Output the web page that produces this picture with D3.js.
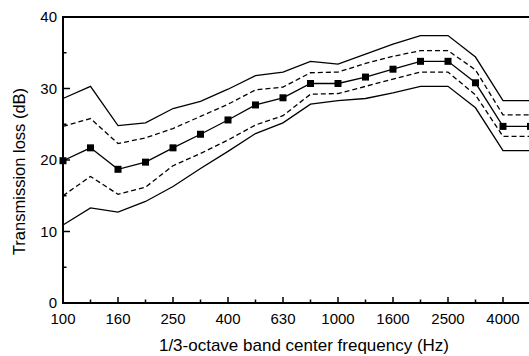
<!DOCTYPE html>
<html>
<head>
<meta charset="utf-8">
<script src="https://cdn.jsdelivr.net/npm/d3@7"></script>
<style>
  html, body { margin: 0; padding: 0; background: #fff; overflow: hidden; }
  text { font-family: "Liberation Sans", Arial, sans-serif; fill: #000; }
</style>
</head>
<body>
<script>
// 1/3-octave band centre frequencies
const freqs = ["100", "125", "160", "200", "250", "315", "400", "500", "630",
    "800", "1000", "1250", "1600", "2000", "2500", "3150", "4000", "5000"];
const majorTicks = ["100", "160", "250", "400", "630", "1000", "1600", "2500", "4000"];

// Transmission loss (dB)
const meanTL = [19.9, 21.7, 18.7, 19.7, 21.7, 23.6, 25.6, 27.7, 28.7, 30.7, 30.7, 31.6, 32.7, 33.8, 33.8, 30.8, 24.7, 24.7];
const upperDashed = [24.7, 25.8, 22.3, 23.1, 24.4, 26.1, 27.8, 29.8, 30.2, 32.2, 32.3, 33.5, 34.5, 35.3, 35.3, 32.6, 26.3, 26.3];
const lowerDashed = [15.0, 17.7, 15.2, 16.2, 19.2, 20.9, 22.8, 24.9, 26.2, 29.2, 29.3, 30.3, 31.3, 32.3, 32.3, 29.1, 23.3, 23.3];
const upperSolid = [28.6, 30.3, 24.8, 25.2, 27.2, 28.2, 29.9, 31.8, 32.3, 33.8, 33.4, 34.8, 36.2, 37.4, 37.4, 34.4, 28.3, 28.3];
const lowerSolid = [10.9, 13.3, 12.7, 14.2, 16.3, 18.8, 21.2, 23.7, 25.2, 27.8, 28.3, 28.6, 29.4, 30.3, 30.3, 27.3, 21.3, 21.3];

const yTicks = [0, 10, 20, 30, 40];
const yMinor = [5, 15, 25, 35];

const width = 529, height = 356;
const plotLeft = 63, plotTop = 17, plotBottom = 303;
const plotRight = 560; // frame continues past the cropped right edge

const svg = d3.select("body").append("svg")
    .attr("width", width)
    .attr("height", height);

const x = d3.scalePoint().domain(freqs).range([plotLeft, 530.5]);
const y = d3.scaleLinear().domain([0, 40]).range([plotBottom, plotTop]);

// curves
const line = d3.line()
    .x((d, i) => x(freqs[i]))
    .y(d => y(d));

const series = [
    { values: upperSolid, dash: null },
    { values: lowerSolid, dash: null },
    { values: upperDashed, dash: "5,3" },
    { values: lowerDashed, dash: "5,3" },
    { values: meanTL, dash: null }
];

svg.append("g")
    .selectAll("path")
    .data(series)
    .join("path")
    .attr("d", d => line(d.values))
    .attr("fill", "none")
    .attr("stroke", "#000")
    .attr("stroke-width", 1.3)
    .attr("stroke-dasharray", d => d.dash);

// square markers on the mean curve
svg.append("g")
    .selectAll("rect")
    .data(meanTL)
    .join("rect")
    .attr("x", (d, i) => x(freqs[i]) - 3.5)
    .attr("y", d => y(d) - 3.5)
    .attr("width", 7)
    .attr("height", 7)
    .attr("fill", "#000");

// frame
svg.append("path")
    .attr("d", `M${plotRight},${plotTop}H${plotLeft}V${plotBottom}H${plotRight}`)
    .attr("fill", "none")
    .attr("stroke", "#000")
    .attr("stroke-width", 2);

// x ticks (inward)
svg.append("g")
    .selectAll("line")
    .data(freqs)
    .join("line")
    .attr("x1", d => x(d))
    .attr("x2", d => x(d))
    .attr("y1", plotBottom)
    .attr("y2", d => plotBottom - (majorTicks.includes(d) ? 6 : 3.5))
    .attr("stroke", "#000")
    .attr("stroke-width", 1.5);

svg.append("g")
    .selectAll("text")
    .data(majorTicks)
    .join("text")
    .attr("x", d => x(d))
    .attr("y", 324)
    .attr("text-anchor", "middle")
    .style("font-size", "15px")
    .text(d => d);

// y ticks (inward)
svg.append("g")
    .selectAll("line")
    .data(yTicks.concat(yMinor))
    .join("line")
    .attr("x1", plotLeft)
    .attr("x2", d => plotLeft + (yTicks.includes(d) ? 7 : 3.5))
    .attr("y1", d => y(d))
    .attr("y2", d => y(d))
    .attr("stroke", "#000")
    .attr("stroke-width", 1.5);

svg.append("g")
    .selectAll("text")
    .data(yTicks)
    .join("text")
    .attr("x", 57)
    .attr("y", d => y(d))
    .attr("dy", "0.34em")
    .attr("text-anchor", "end")
    .style("font-size", "15px")
    .text(d => d);

// axis titles
svg.append("text")
    .attr("x", 304)
    .attr("y", 351)
    .attr("text-anchor", "middle")
    .style("font-size", "17px")
    .text("1/3-octave band center frequency (Hz)");

svg.append("text")
    .attr("transform", "translate(25,171.5) rotate(-90)")
    .attr("text-anchor", "middle")
    .style("font-size", "16.5px")
    .text("Transmission loss (dB)");
</script>
</body>
</html>
